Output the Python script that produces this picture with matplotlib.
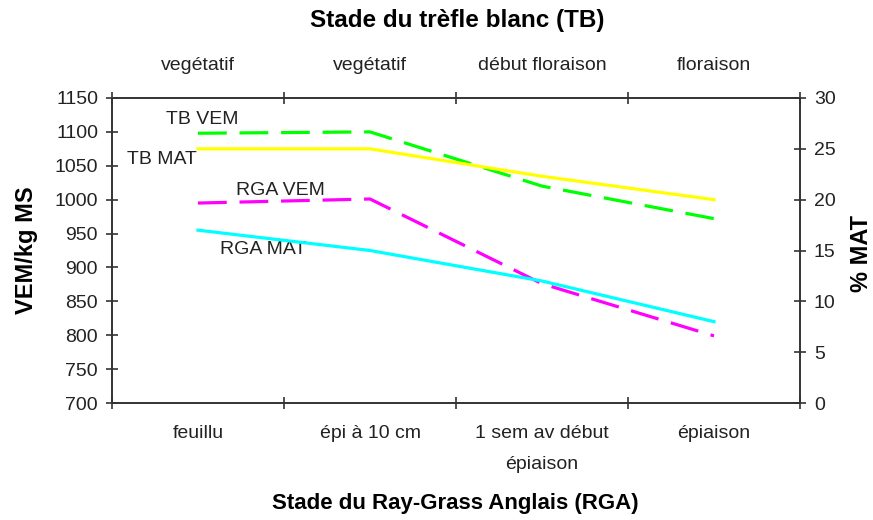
import matplotlib
matplotlib.use("Agg")
import matplotlib.pyplot as plt
import numpy as np

plt.rcParams['font.family'] = ['Liberation Sans', 'DejaVu Sans']

rga_stages = ["feuillu", "épi à 10 cm", "1 sem av début\népiaison", "épiaison"]
tb_stages = ["vegétatif", "vegétatif", "début floraison", "floraison"]

tb_vem = [1098, 1100, 1020, 972]
rga_vem = [995, 1001, 876, 799]
tb_mat = [25.0, 25.0, 22.3, 20.0]
rga_mat = [17.0, 15.0, 12.0, 8.0]

W, H = 873, 520
fig = plt.figure(figsize=(W/100, H/100), dpi=100)
L, R, T, B = 112, 800, 98, 403
ax = fig.add_axes([L/W, 1-B/H, (R-L)/W, (B-T)/H])
ax2 = ax.twinx()

x = np.arange(len(rga_stages))
lw = 2.3
ax.plot(x, tb_vem, color='#00FF00', lw=lw, dashes=(9, 4), zorder=3)
ax.plot(x, rga_vem, color='#FF00FF', lw=lw, dashes=(9, 4), zorder=3)
ax2.plot(x, tb_mat, color='#FFFF00', lw=lw, zorder=2)
ax2.plot(x, rga_mat, color='#00FFFF', lw=lw, zorder=2)

ax.set_xlim(-0.5, 3.5)
ax.set_ylim(700, 1150)
ax.set_yticks(np.arange(700, 1151, 50))
ax2.set_ylim(0, 30)
ax2.set_yticks(np.arange(0, 31, 5))

fs = 14
tc = '#222222'
# x ticks: marks at boundaries, labels at centers
ax.set_xticks([-0.5, 0.5, 1.5, 2.5, 3.5])
ax.set_xticklabels([])
ax.set_xticks(x, minor=True)
ax.set_xticklabels(rga_stages, minor=True, fontsize=fs, color=tc, va='top',
                   linespacing=2.05)
ax.tick_params(axis='x', which='minor', length=0, pad=16)
ax.tick_params(axis='x', which='major', direction='inout', length=8, width=1.2,
               top=True, color='#333333')
ax.tick_params(axis='y', direction='inout', length=8, width=1.2, labelsize=fs,
               color='#333333', labelcolor=tc, pad=6)
ax2.tick_params(axis='y', direction='inout', length=8, width=1.2, labelsize=fs,
                color='#333333', labelcolor=tc, pad=6)

secx = ax.secondary_xaxis('top')
secx.set_xticks(x)
secx.set_xticklabels(tb_stages, fontsize=fs, color=tc)
secx.tick_params(length=0, pad=17)
secx.spines['top'].set_visible(False)

for a in (ax, ax2):
    for s in a.spines.values():
        s.set_linewidth(1.2)
        s.set_color('#333333')

ax.text(0.023, 1119, "TB VEM", fontsize=fs, ha='center', va='center', color=tc)
ax.text(-0.21, 1060, "TB MAT", fontsize=fs, ha='center', va='center', color=tc)
ax.text(0.477, 1014, "RGA VEM", fontsize=fs, ha='center', va='center', color=tc)
ax.text(0.378, 927, "RGA MAT", fontsize=fs, ha='center', va='center', color=tc)

fig.text(457/W, 1-20/H, "Stade du trèfle blanc (TB)", fontsize=17.5, fontweight='bold',
         ha='center', va='center')
fig.text(455/W, 1-504/H, "Stade du Ray-Grass Anglais (RGA)", fontsize=16, fontweight='bold',
         ha='center', va='center')
fig.text(26/W, 1-250/H, "VEM/kg MS", fontsize=17, fontweight='bold', rotation=90,
         ha='center', va='center')
fig.text(862/W, 1-254/H, "% MAT", fontsize=17, fontweight='bold', rotation=90,
         ha='center', va='center')

fig.savefig("out.png", dpi=100)
